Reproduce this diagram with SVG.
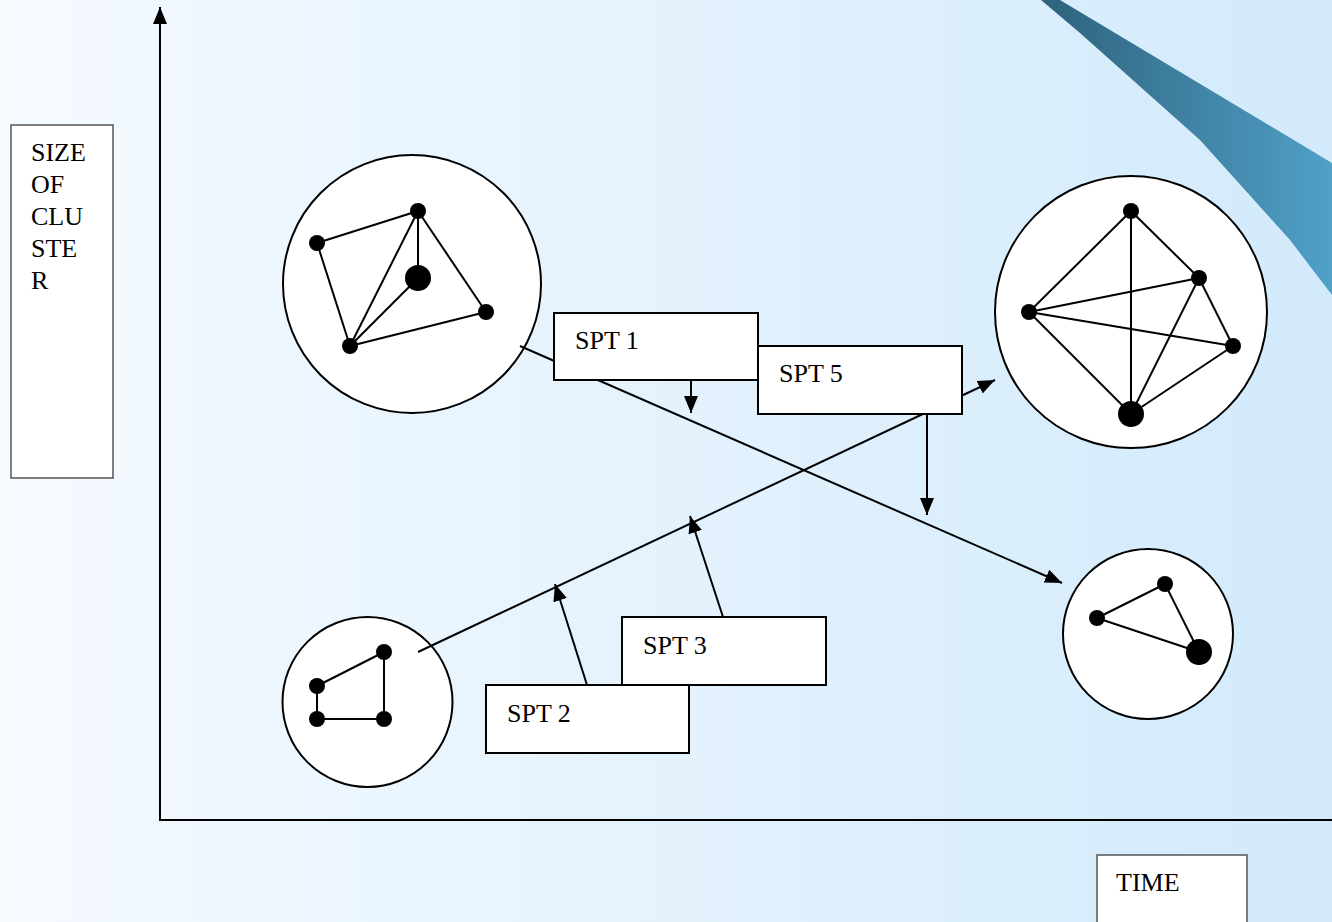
<svg xmlns="http://www.w3.org/2000/svg" width="1332" height="922" viewBox="0 0 1332 922">
<style>
.box{fill:#fff;stroke:#000;stroke-width:2}
.lbl{fill:#fff;stroke:#555;stroke-width:1.5}
.t{font-family:"Liberation Serif","Times New Roman",serif;font-size:26px;fill:#000}
.ln{stroke:#000;stroke-width:2;fill:none}
.ring{fill:#fff;stroke:#000;stroke-width:2}
.e{stroke:#000;stroke-width:2}
.n{fill:#000}
</style>
<defs>
<linearGradient id="bg" x1="0" y1="0" x2="1" y2="0">
<stop offset="0" stop-color="#f5faff"/>
<stop offset="1" stop-color="#d2eafb"/>
</linearGradient>
<linearGradient id="band" x1="1041" y1="0" x2="1332" y2="0" gradientUnits="userSpaceOnUse">
<stop offset="0" stop-color="#2e627c"/>
<stop offset="1" stop-color="#50a0c8"/>
</linearGradient>
<marker id="ah" markerUnits="userSpaceOnUse" markerWidth="18" markerHeight="16" viewBox="0 0 18 16" refX="17" refY="8" orient="auto">
<path d="M0,1 L17,8 L0,15 Z" fill="#000"/>
</marker>
</defs>
<rect x="0" y="0" width="1332" height="922" fill="url(#bg)"/>
<polygon points="1041,0 1060,0 1332,163 1332,295 1290,240 1200,140 1080,33" fill="url(#band)"/>

<g id="axes">
<line class="ln" x1="160" y1="820" x2="160" y2="7" marker-end="url(#ah)"/>
<line class="ln" x1="159" y1="820" x2="1332" y2="820"/>
</g>

<g id="y-label">
<rect class="lbl" x="11" y="125" width="102" height="353"/>
<text class="t" x="31" y="161">SIZE</text>
<text class="t" x="31" y="193">OF</text>
<text class="t" x="31" y="225">CLU</text>
<text class="t" x="31" y="257">STE</text>
<text class="t" x="31" y="289">R</text>
</g>

<g id="x-label">
<rect class="lbl" x="1097" y="855" width="150" height="80"/>
<text class="t" x="1116" y="891">TIME</text>
</g>

<g id="cluster-large">
<circle class="ring" cx="412" cy="284" r="129"/>
<line class="e" x1="317" y1="243" x2="418" y2="211"/>
<line class="e" x1="418" y1="211" x2="418" y2="278"/>
<line class="e" x1="418" y1="211" x2="350" y2="346"/>
<line class="e" x1="418" y1="211" x2="486" y2="312"/>
<line class="e" x1="317" y1="243" x2="350" y2="346"/>
<line class="e" x1="350" y1="346" x2="418" y2="278"/>
<line class="e" x1="350" y1="346" x2="486" y2="312"/>
<circle class="n" cx="418" cy="211" r="8"/>
<circle class="n" cx="317" cy="243" r="8"/>
<circle class="n" cx="418" cy="278" r="13"/>
<circle class="n" cx="486" cy="312" r="8"/>
<circle class="n" cx="350" cy="346" r="8"/>
</g>

<g id="cluster-merged">
<circle class="ring" cx="1131" cy="312" r="136"/>
<line class="e" x1="1131" y1="211" x2="1029" y2="312"/>
<line class="e" x1="1131" y1="211" x2="1131" y2="414"/>
<line class="e" x1="1131" y1="211" x2="1199" y2="278"/>
<line class="e" x1="1029" y1="312" x2="1199" y2="278"/>
<line class="e" x1="1029" y1="312" x2="1233" y2="346"/>
<line class="e" x1="1029" y1="312" x2="1131" y2="414"/>
<line class="e" x1="1199" y1="278" x2="1233" y2="346"/>
<line class="e" x1="1199" y1="278" x2="1131" y2="414"/>
<line class="e" x1="1233" y1="346" x2="1131" y2="414"/>
<circle class="n" cx="1131" cy="211" r="8"/>
<circle class="n" cx="1199" cy="278" r="8"/>
<circle class="n" cx="1029" cy="312" r="8"/>
<circle class="n" cx="1233" cy="346" r="8"/>
<circle class="n" cx="1131" cy="414" r="13"/>
</g>

<g id="cluster-small-left">
<circle class="ring" cx="367.5" cy="702" r="85"/>
<line class="e" x1="317" y1="686" x2="384" y2="652"/>
<line class="e" x1="384" y1="652" x2="384" y2="719"/>
<line class="e" x1="317" y1="719" x2="384" y2="719"/>
<line class="e" x1="317" y1="686" x2="317" y2="719"/>
<circle class="n" cx="384" cy="652" r="8"/>
<circle class="n" cx="317" cy="686" r="8"/>
<circle class="n" cx="317" cy="719" r="8"/>
<circle class="n" cx="384" cy="719" r="8"/>
</g>

<g id="cluster-small-right">
<circle class="ring" cx="1148" cy="634" r="85"/>
<line class="e" x1="1097" y1="618" x2="1165" y2="584"/>
<line class="e" x1="1165" y1="584" x2="1199" y2="652"/>
<line class="e" x1="1097" y1="618" x2="1199" y2="652"/>
<circle class="n" cx="1165" cy="584" r="8"/>
<circle class="n" cx="1097" cy="618" r="8"/>
<circle class="n" cx="1199" cy="652" r="13"/>
</g>

<g id="connectors">
<line class="ln" x1="520" y1="346" x2="1062" y2="583" marker-end="url(#ah)"/>
<line class="ln" x1="418" y1="652" x2="995" y2="380" marker-end="url(#ah)"/>
<line class="ln" x1="691" y1="380" x2="691" y2="413" marker-end="url(#ah)"/>
<line class="ln" x1="927" y1="414" x2="927" y2="515" marker-end="url(#ah)"/>
<line class="ln" x1="587" y1="685" x2="555" y2="584" marker-end="url(#ah)"/>
<line class="ln" x1="723" y1="617" x2="690" y2="516" marker-end="url(#ah)"/>
</g>

<g id="spt1">
<rect class="box" x="554" y="313" width="204" height="67"/>
<text class="t" x="575" y="349">SPT 1</text>
</g>
<g id="spt5">
<rect class="box" x="758" y="346" width="204" height="68"/>
<text class="t" x="779" y="382">SPT 5</text>
</g>
<g id="spt3">
<rect class="box" x="622" y="617" width="204" height="68"/>
<text class="t" x="643" y="654">SPT 3</text>
</g>
<g id="spt2">
<rect class="box" x="486" y="685" width="203" height="68"/>
<text class="t" x="507" y="722">SPT 2</text>
</g>
</svg>
